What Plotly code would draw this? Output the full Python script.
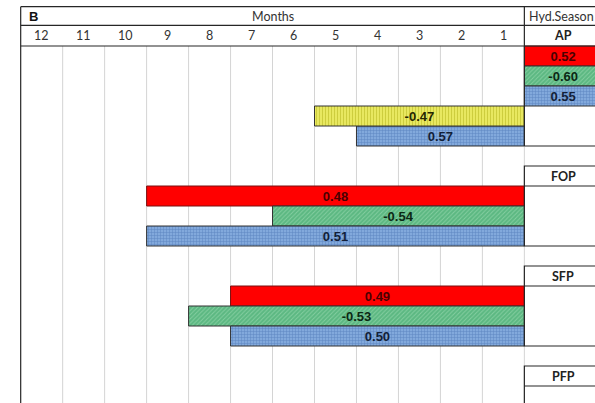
import plotly.graph_objects as go

# ---- data -------------------------------------------------------------
months = [12, 11, 10, 9, 8, 7, 6, 5, 4, 3, 2, 1]
seasons = ["AP", "FOP", "SFP", "PFP"]
season_header_rows = [-1, 6, 11, 16]      # row holding each season's title
season_last_rows = [4, 9, 14, 18]        # last row inside each season box

# one list per series; first month None = value shown in the Hyd.Season column
red_rows = [0, 7, 12]
red_first_month = [None, 9, 7]
red_values = [0.52, 0.48, 0.49]

green_rows = [1, 8, 13]
green_first_month = [None, 6, 8]
green_values = [-0.60, -0.54, -0.53]

blue_rows = [2, 4, 9, 14]
blue_first_month = [None, 4, 9, 7]
blue_values = [0.55, 0.57, 0.51, 0.50]

yellow_rows = [3]
yellow_first_month = [5]
yellow_values = [-0.47]

# ---- layout constants ---------------------------------------------------
N = len(months)          # month columns occupy x in [0, N]
HYD_W = 1.85             # width of the Hyd.Season column (x in [N, N+HYD_W])
X_RANGE = [-0.493, 13.683]
Y_RANGE = [17.85, -2.3]  # rows run downward
TOP = -1.965
MID = -1.035
LINE = "#262626"
GRID = "#d4d4d4"


def spans(first_months):
    base, length = [], []
    for m in first_months:
        if m is None:
            base.append(N)
            length.append(HYD_W)
        else:
            base.append(N - m)
            length.append(m)
    return base, length


def bar_trace(rows, first_months, values, color, text_color, pattern=None, edge="#333333"):
    base, length = spans(first_months)
    marker = dict(color=color, line=dict(color=edge, width=1))
    if pattern:
        marker["pattern"] = pattern
    return go.Bar(
        orientation="h",
        y=[r + 0.5 for r in rows],
        x=length,
        base=base,
        width=1,
        marker=marker,
        text=[f"{v:.2f}" for v in values],
        textposition="inside",
        insidetextanchor="middle",
        textangle=0,
        constraintext="none",
        textfont=dict(family="Liberation Sans", size=13, color=text_color, weight="bold"),
        hoverinfo="skip",
        showlegend=False,
    )


fig = go.Figure()
fig.add_trace(bar_trace(red_rows, red_first_month, red_values, "#ff0000", "#4a0000", edge="#7a1010"))
fig.add_trace(bar_trace(green_rows, green_first_month, green_values, "#5cb882", "#0c2814",
                        pattern=dict(shape="/", fillmode="replace", bgcolor="#5cb882",
                                     fgcolor="#86cfa2", size=3, solidity=0.3)))
fig.add_trace(bar_trace(blue_rows, blue_first_month, blue_values, "#7ea6da", "#121f38",
                        pattern=dict(shape="+", fillmode="replace", bgcolor="#82a9dc",
                                     fgcolor="#5d86c2", size=3, solidity=0.3)))
fig.add_trace(bar_trace(yellow_rows, yellow_first_month, yellow_values, "#e6e65c", "#262600",
                        pattern=dict(shape="|", fillmode="replace", bgcolor="#e8e860",
                                     fgcolor="#c9c93a", size=3, solidity=0.3)))

shapes = []
# light month gridlines
for i in range(1, N + 1):
    shapes.append(dict(type="line", x0=i, x1=i, y0=0, y1=Y_RANGE[0], layer="below",
                       line=dict(color=GRID, width=1)))
# outer table frame and header rules
shapes.append(dict(type="line", x0=0, x1=0, y0=TOP, y1=Y_RANGE[0], line=dict(color=LINE, width=1.2)))
for yy in (TOP, MID, 0):
    shapes.append(dict(type="line", x0=0, x1=N + HYD_W, y0=yy, y1=yy, line=dict(color=LINE, width=1.2)))
shapes.append(dict(type="line", x0=N, x1=N, y0=TOP, y1=season_last_rows[0] + 1,
                   line=dict(color=LINE, width=1.2)))
shapes.append(dict(type="line", x0=N, x1=N + HYD_W, y0=season_last_rows[0] + 1, y1=season_last_rows[0] + 1,
                   line=dict(color=LINE, width=1.2)))
# boxes for the later seasons
for hdr, last in zip(season_header_rows[1:], season_last_rows[1:]):
    shapes.append(dict(type="rect", x0=N, x1=N + HYD_W, y0=hdr, y1=last + 1,
                       line=dict(color=LINE, width=1.2)))
    shapes.append(dict(type="line", x0=N, x1=N + HYD_W, y0=hdr + 1, y1=hdr + 1,
                       line=dict(color=LINE, width=1.2)))

head_font = dict(family="Lato", size=12.5, color="#333333")
annotations = [
    dict(x=0.15, y=(TOP + MID) / 2, text="<b>B</b>", xanchor="left", showarrow=False,
         font=dict(family="Liberation Sans", size=13, color="#111111")),
    dict(x=N / 2, y=(TOP + MID) / 2, text="Months", showarrow=False, font=head_font),
    dict(x=N + 0.06, y=(TOP + MID) / 2, text="Hyd.Season", xanchor="left", showarrow=False, font=head_font),
]
for i, m in enumerate(months):
    annotations.append(dict(x=i + 0.5, y=(MID + 0) / 2, text=str(m), showarrow=False, font=head_font))
for name, hdr in zip(seasons, season_header_rows):
    yy = (MID + 0) / 2 if hdr < 0 else hdr + 0.5
    annotations.append(dict(x=N + HYD_W / 2, y=yy, text=f"<b>{name}</b>", showarrow=False,
                            font=dict(family="Lato", size=12.5, color="#222222")))

fig.update_layout(
    width=595, height=403,
    margin=dict(l=0, r=0, t=0, b=0),
    paper_bgcolor="white", plot_bgcolor="white",
    barmode="overlay",
    xaxis=dict(range=X_RANGE, visible=False, fixedrange=True),
    yaxis=dict(range=Y_RANGE, visible=False, fixedrange=True),
    shapes=shapes,
    annotations=annotations,
)

fig.write_html("out.html")
